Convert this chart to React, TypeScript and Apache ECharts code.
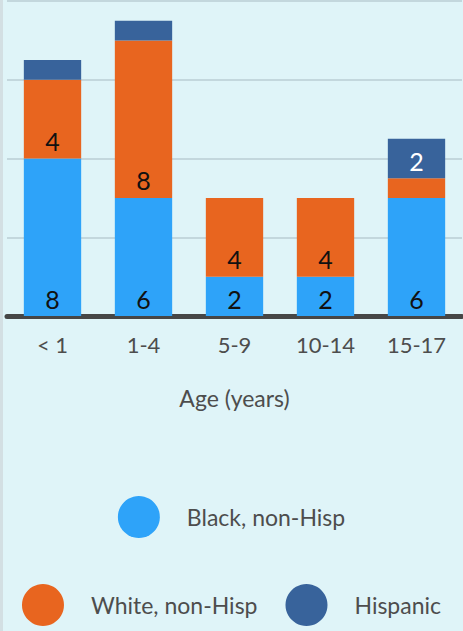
import React, { useEffect, useRef } from "react";
import * as echarts from "echarts";

const categories = ["< 1", "1-4", "5-9", "10-14", "15-17"];
const blackNonHisp = [8, 6, 2, 2, 6];
const whiteNonHisp = [4, 8, 4, 4, 1];
const hispanic = [1, 1, 0, 0, 2];
const yTicks = { min: 0, max: 16, interval: 4 };

const FONT = "Lato, 'Liberation Sans', sans-serif";
const BLUE = "#2ea3f9";
const ORANGE = "#e8651f";
const NAVY = "#38639b";
const TEXT = "#4d4d4d";

export default function App() {
  const ref = useRef<HTMLDivElement>(null);
  useEffect(() => {
    if (!ref.current) return;
    const chart = echarts.init(ref.current, undefined, { renderer: "svg" });
    const labelFor = (color: string) => ({
      show: true,
      position: "insideBottom" as const,
      distance: 5,
      color,
      fontFamily: FONT,
      fontSize: 25,
      formatter: (p: any) => (p.value >= 2 ? String(p.value) : ""),
    });
    const legendText = {
      fontFamily: FONT,
      fontSize: 23,
      color: TEXT,
      padding: [0, 0, 0, 22],
    };
    chart.setOption({
      animation: false,
      backgroundColor: "#dff4f8",
      grid: { left: 7, right: 1, top: 1, height: 315, containLabel: false },
      graphic: [
        { type: "rect", left: 0, top: 0, shape: { width: 3, height: 631 }, style: { fill: "#d3dfe3" } },
      ],
      xAxis: {
        type: "category",
        data: categories,
        axisLine: { show: true, lineStyle: { color: "#464646", width: 5 } },
        axisTick: { show: false },
        axisLabel: { color: TEXT, fontFamily: FONT, fontSize: 22, margin: 17 },
        name: "Age (years)",
        nameLocation: "middle",
        nameGap: 70,
        nameTextStyle: { color: TEXT, fontFamily: FONT, fontSize: 23 },
      },
      yAxis: {
        type: "value",
        min: yTicks.min,
        max: yTicks.max,
        interval: yTicks.interval,
        axisLabel: { show: false },
        axisLine: { show: false },
        axisTick: { show: false },
        splitLine: { show: true, lineStyle: { color: "#c3d7dd", width: 2 } },
      },
      legend: [
        {
          data: ["Black, non-Hisp"],
          left: "center",
          top: 496,
          width: 460,
          padding: 0,
          icon: "circle",
          itemWidth: 42,
          itemHeight: 42,
          textStyle: legendText,
        },
        {
          data: ["White, non-Hisp", "Hispanic"],
          left: "center",
          top: 584,
          width: 460,
          padding: 0,
          icon: "circle",
          itemWidth: 42,
          itemHeight: 42,
          itemGap: 28,
          textStyle: legendText,
        },
      ],
      series: [
        {
          name: "Black, non-Hisp",
          type: "bar",
          stack: "total",
          barWidth: "63%",
          data: blackNonHisp,
          itemStyle: { color: BLUE },
          label: labelFor("#111111"),
        },
        {
          name: "White, non-Hisp",
          type: "bar",
          stack: "total",
          data: whiteNonHisp,
          itemStyle: { color: ORANGE },
          label: labelFor("#111111"),
        },
        {
          name: "Hispanic",
          type: "bar",
          stack: "total",
          data: hispanic,
          itemStyle: { color: NAVY },
          label: labelFor("#ffffff"),
        },
      ],
    });
    return () => chart.dispose();
  }, []);
  return (
    <div
      ref={ref}
      style={{ position: "fixed", left: 0, top: 0, width: 463, height: 631 }}
    />
  );
}
